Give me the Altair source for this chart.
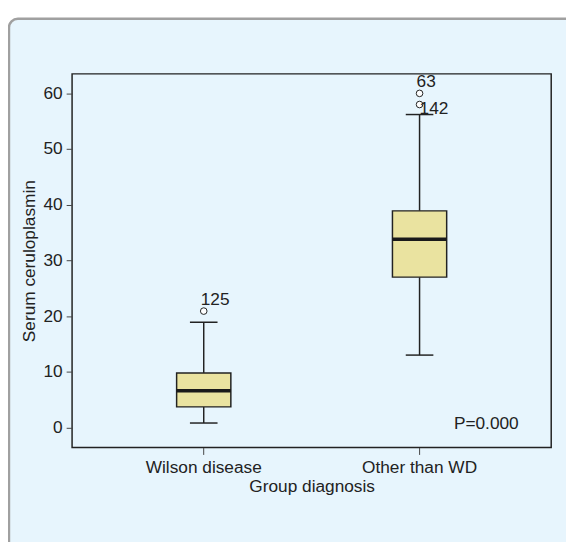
import altair as alt
import pandas as pd

# ---- data ----
groups = ["Wilson disease", "Other than WD"]
whisker_low = [0.8, 13.0]
q1 = [3.7, 27.0]
median = [6.6, 33.8]
q3 = [9.8, 38.9]
whisker_high = [18.9, 56.2]

outlier_group = ["Wilson disease", "Other than WD", "Other than WD"]
outlier_value = [20.9, 58.0, 60.0]
outlier_label = ["125", "142", "63"]

p_text = ["P=0.000"]

W, H = 486, 379
FONT = "Liberation Sans"
FS = 17.5
DARK = "#222222"

boxes = pd.DataFrame({
    "group": groups, "lo": whisker_low, "q1": q1, "med": median,
    "q3": q3, "hi": whisker_high,
})
outs = pd.DataFrame({"group": outlier_group, "value": outlier_value,
                     "label": outlier_label})
ptxt = pd.DataFrame({"t": p_text, "y": [0]})

xscale = alt.Scale(domain=groups, paddingInner=0, paddingOuter=0.11)
yscale = alt.Scale(domain=[-3.6, 63.5], nice=False, zero=False)

xenc = alt.X("group:N", scale=xscale, sort=groups,
             axis=alt.Axis(title="Group diagnosis", labelAngle=0, tickSize=7,
                           tickColor="#444", domain=False, labelPadding=4,
                           titlePadding=2, zindex=1))
yaxis = alt.Axis(title="Serum ceruloplasmin", values=[0, 10, 20, 30, 40, 50, 60],
                 tickSize=6, tickColor="#444", domain=False, grid=False,
                 labelPadding=4, titlePadding=5, zindex=1)

# decorative background panel (rounded, light blue)
panel = alt.Chart(ptxt).mark_rect(
    fill="#E7F5FD", stroke="#A0A0A0", strokeWidth=2.5, cornerRadius=9
).encode(x=alt.value(-64), x2=alt.value(W + 40), y=alt.value(-56), y2=alt.value(H + 120))

frame = alt.Chart(ptxt).mark_rect(
    fill=None, stroke=DARK, strokeWidth=1.5
).encode(x=alt.value(0), x2=alt.value(W), y=alt.value(0), y2=alt.value(H))

base = alt.Chart(boxes).encode(x=xenc)

whisk_lo = base.mark_rule(color=DARK, strokeWidth=1.5).encode(
    y=alt.Y("lo:Q", scale=yscale, axis=yaxis), y2="q1:Q")
whisk_hi = base.mark_rule(color=DARK, strokeWidth=1.5).encode(
    y=alt.Y("q3:Q", scale=yscale), y2="hi:Q")
cap_lo = base.mark_tick(color=DARK, size=28, thickness=1.5, orient="horizontal", opacity=1).encode(
    y=alt.Y("lo:Q", scale=yscale))
cap_hi = base.mark_tick(color=DARK, size=28, thickness=1.5, orient="horizontal", opacity=1).encode(
    y=alt.Y("hi:Q", scale=yscale))
box = base.mark_bar(size=55, fill="#EAE3A0", stroke=DARK, strokeWidth=1.5, opacity=1).encode(
    y=alt.Y("q1:Q", scale=yscale), y2="q3:Q")
med = base.mark_tick(color="#1a1a1a", size=55, thickness=3.5, orient="horizontal", opacity=1).encode(
    y=alt.Y("med:Q", scale=yscale))

pts = alt.Chart(outs).mark_point(
    shape="circle", size=45, filled=False, stroke=DARK, strokeWidth=1, fill="white",
    fillOpacity=1, opacity=1
).encode(x=alt.X("group:N", scale=xscale, sort=groups), y=alt.Y("value:Q", scale=yscale))

lab_up = alt.Chart(outs).transform_filter(alt.datum.label != "142").mark_text(
    align="left", baseline="middle", dx=-3, dy=-11, font=FONT, fontSize=FS, color=DARK
).encode(x=alt.X("group:N", scale=xscale, sort=groups), y=alt.Y("value:Q", scale=yscale),
         text="label:N")
lab_dn = alt.Chart(outs).transform_filter(alt.datum.label == "142").mark_text(
    align="left", baseline="middle", dx=0, dy=5, font=FONT, fontSize=FS, color=DARK
).encode(x=alt.X("group:N", scale=xscale, sort=groups), y=alt.Y("value:Q", scale=yscale),
         text="label:N")

ptext = alt.Chart(ptxt).mark_text(
    align="right", baseline="middle", dy=-3, font=FONT, fontSize=FS, color=DARK
).encode(x=alt.value(W - 33), y=alt.Y("y:Q", scale=yscale), text="t:N")

chart = alt.layer(
    panel, whisk_lo, whisk_hi, cap_lo, cap_hi, box, med, pts, lab_up, lab_dn, ptext, frame
).properties(
    width=W, height=H,
    autosize=alt.AutoSizeParams(type="none"),
    padding={"left": 65, "top": 63, "right": 15, "bottom": 92},
    background="white",
).configure_view(stroke=None).configure_axis(
    labelFont=FONT, titleFont=FONT, labelFontSize=FS, titleFontSize=FS,
    labelColor=DARK, titleColor=DARK, titleFontWeight="normal"
)

chart.save("out.html", embed_options={"renderer": "svg", "actions": False})
